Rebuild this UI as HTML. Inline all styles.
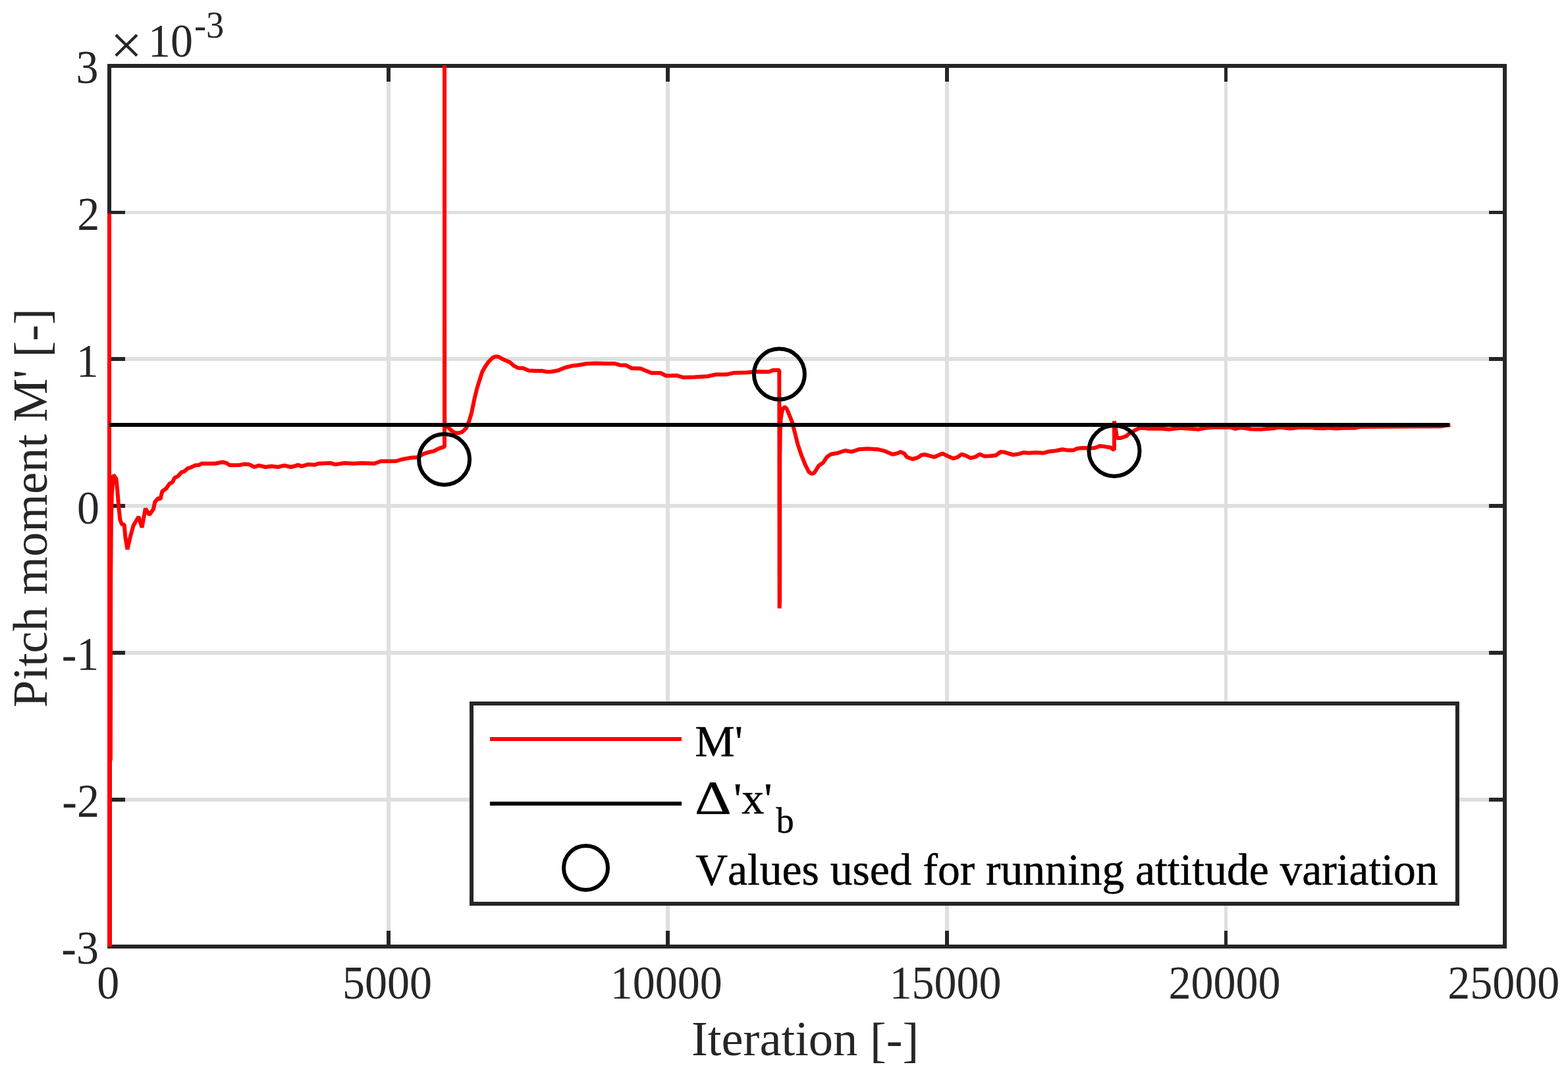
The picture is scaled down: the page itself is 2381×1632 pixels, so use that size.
<!DOCTYPE html>
<html lang="en">
<head>
<meta charset="utf-8">
<title>Pitch moment convergence</title>
<style>
html,body{margin:0;padding:0;background:#fff;}
body{width:2381px;height:1632px;overflow:hidden;}
svg{display:block;}
text{font-family:"Liberation Serif", "DejaVu Serif", serif;font-kerning:none;font-variant-ligatures:none;}
.tick{font-size:68px;fill:#262626;}
.sup{font-size:54.4px;fill:#262626;}
.lab{font-size:74.5px;fill:#262626;}
.lab2{font-size:74.3px;fill:#262626;}
.leg{font-size:68px;fill:#000;stroke:#000;stroke-width:0.5px;}
.legsub{font-size:54.4px;fill:#000;stroke:#000;stroke-width:0.4px;}
</style>
</head>
<body>
<svg width="2381" height="1632" viewBox="0 0 2381 1632">
<defs><clipPath id="clip"><rect x="150" y="99" width="2150" height="1338"/></clipPath></defs>
<rect x="0" y="0" width="2381" height="1632" fill="#ffffff"/>

<g fill="#dfdfdf">
<rect x="587" y="103" width="6" height="1331"/>
<rect x="1011" y="103" width="6" height="1331"/>
<rect x="1435" y="103" width="6" height="1331"/>
<rect x="1859" y="103" width="5" height="1331"/>
<rect x="169" y="320" width="2113" height="5"/>
<rect x="169" y="542" width="2113" height="6"/>
<rect x="169" y="765" width="2113" height="6"/>
<rect x="169" y="988" width="2113" height="6"/>
<rect x="169" y="1211" width="2113" height="6"/>
</g>
<g fill="#262626">
<rect x="587" y="1413" width="6" height="24"/>
<rect x="587" y="100" width="6" height="24"/>
<rect x="1011" y="1413" width="6" height="24"/>
<rect x="1011" y="100" width="6" height="24"/>
<rect x="1435" y="1413" width="6" height="24"/>
<rect x="1435" y="100" width="6" height="24"/>
<rect x="1859" y="1413" width="5" height="24"/>
<rect x="1859" y="100" width="5" height="24"/>
<rect x="166" y="320" width="24" height="5"/>
<rect x="2261" y="320" width="24" height="5"/>
<rect x="166" y="542" width="24" height="6"/>
<rect x="2261" y="542" width="24" height="6"/>
<rect x="166" y="765" width="24" height="6"/>
<rect x="2261" y="765" width="24" height="6"/>
<rect x="166" y="988" width="24" height="6"/>
<rect x="2261" y="988" width="24" height="6"/>
<rect x="166" y="1211" width="24" height="6"/>
<rect x="2261" y="1211" width="24" height="6"/>
</g>
<rect x="166" y="100" width="2119" height="1337" fill="none" stroke="#262626" stroke-width="6"/>
<g clip-path="url(#clip)" fill="none">
<path d="M166.0,324.0 L166.0,1445.0 L167.0,1445.0 L167.0,1156.0 L167.9,1153.0 L168.2,880.0 L168.8,795.0 L169.8,750.0 L172.3,721.0 L176.5,727.0 L178.3,745.0 L180.3,770.0 L182.3,789.0 L185.0,796.0 L188.7,796.5 L190.3,815.0 L193.4,834.0 L198.2,813.5 L202.6,797.7 L210.5,784.5 L215.6,800.8 L220.8,772.0 L226.8,781.6 L232.9,773.0 L235.3,762.0 L240.0,756.5 L243.6,757.5 L246.3,746.0 L252.2,741.8 L257.7,734.0 L261.9,732.2 L265.0,725.5 L270.2,723.0 L275.7,716.8 L279.8,715.6 L285.4,710.8 L289.5,709.8 L296.4,706.5 L301.9,706.0 L306.1,703.8 L326.8,703.8 L337.8,701.5 L343.4,702.8 L348.9,706.3 L364.1,706.0 L371.0,704.6 L377.9,704.9 L386.2,709.0 L393.1,706.6 L402.8,709.0 L412.4,707.7 L422.1,709.0 L431.8,706.7 L441.4,709.0 L449.7,707.0 L452.4,705.8 L458.0,707.8 L467.6,705.1 L477.3,705.8 L484.2,703.7 L502.2,703.0 L509.1,705.1 L522.9,703.0 L536.7,703.7 L550.5,703.0 L568.5,703.7 L578.1,700.2 L601.6,700.0 L609.9,697.5 L622.3,695.1 L633.4,694.3 L643.0,689.2 L651.3,686.4 L658.2,685.1 L666.5,680.9 L675.0,678.1 L675.0,90.0 L675.2,645.0 L680.3,648.5 L685.9,654.0 L690.0,656.6 L694.1,657.4 L698.5,657.0 L702.4,655.4 L708.0,649.8 L712.1,640.2 L716.2,626.4 L720.4,605.6 L724.5,589.1 L728.3,576.7 L732.4,564.3 L736.6,556.7 L742.1,549.1 L747.6,543.5 L751.0,541.7 L754.5,541.2 L757.5,541.9 L760.1,543.3 L765.6,546.3 L773.9,549.8 L779.4,554.6 L786.3,558.5 L794.6,559.1 L802.9,562.6 L813.9,563.1 L823.6,563.1 L830.5,564.5 L837.4,564.3 L847.1,562.5 L858.1,558.0 L867.8,555.6 L878.8,554.2 L889.9,552.2 L903.7,551.5 L920.3,552.1 L934.1,552.1 L941.0,554.2 L950.7,554.6 L959.0,559.0 L972.8,559.4 L981.0,562.9 L989.3,566.3 L1003.1,566.3 L1011.4,570.5 L1028.0,570.1 L1037.6,573.0 L1054.2,572.5 L1074.9,571.2 L1087.3,568.4 L1103.9,568.4 L1115.0,565.9 L1134.3,565.4 L1148.1,564.3 L1167.5,564.5 L1174.4,561.9 L1183.3,561.9 L1183.6,923.6 L1184.1,910.0 L1184.2,697.0 L1184.7,655.0 L1185.7,634.5 L1188.2,621.5 L1190.0,618.9 L1192.1,618.0 L1194.6,620.6 L1197.6,627.6 L1203.1,641.4 L1207.3,658.0 L1211.4,674.6 L1217.0,691.2 L1222.5,705.0 L1228.0,716.0 L1231.0,718.6 L1233.5,719.1 L1235.8,718.2 L1237.7,716.0 L1243.2,707.0 L1250.1,702.2 L1255.6,693.9 L1261.2,689.8 L1272.2,687.7 L1283.3,684.0 L1292.9,685.9 L1305.4,681.9 L1317.8,681.2 L1333.0,682.2 L1344.0,684.9 L1355.1,689.8 L1362.0,688.4 L1367.5,685.9 L1373.0,688.4 L1377.2,693.9 L1385.5,697.0 L1393.8,694.6 L1399.3,690.7 L1404.8,690.1 L1418.6,693.9 L1431.0,688.4 L1439.3,692.5 L1447.6,696.0 L1454.5,693.9 L1460.0,689.5 L1466.9,691.9 L1473.8,695.4 L1482.1,693.3 L1487.6,689.4 L1494.5,692.6 L1502.8,692.2 L1512.5,691.2 L1519.4,686.0 L1524.9,686.4 L1531.8,688.5 L1538.7,690.5 L1547.0,689.1 L1553.9,687.1 L1562.2,687.8 L1573.3,687.1 L1584.3,687.8 L1592.6,685.4 L1603.6,684.3 L1613.3,682.2 L1621.6,683.6 L1629.9,683.6 L1635.4,680.9 L1643.7,679.9 L1653.4,680.2 L1661.7,680.2 L1670.0,677.1 L1678.2,678.1 L1686.5,679.5 L1690.0,682.2 L1692.0,682.5 L1692.0,639.3 L1694.6,655.0 L1696.2,665.0 L1701.7,665.0 L1710.0,662.2 L1715.5,657.4 L1722.4,653.9 L1728.0,650.8 L1732.0,649.5 L1744.5,650.8 L1760.0,650.5 L1775.0,651.8 L1791.6,649.8 L1820.0,651.8 L1830.0,649.8 L1843.0,648.8 L1869.0,648.8 L1875.5,651.0 L1882.0,649.5 L1887.0,649.5 L1900.0,651.5 L1914.0,651.8 L1933.6,650.3 L1940.0,649.0 L1946.5,649.0 L1959.4,650.5 L1972.0,649.0 L1992.0,649.0 L1998.0,650.0 L2011.0,650.3 L2017.5,649.5 L2029.0,650.5 L2040.0,649.8 L2057.0,649.7 L2065.0,648.0 L2100.0,647.7 L2140.0,647.6 L2188.0,647.3 L2195.0,646.0 L2202.3,645.3" stroke="#ff0000" stroke-width="6" stroke-linejoin="bevel" stroke-linecap="butt"/>
<line x1="166" y1="645" x2="2201" y2="645" stroke="#000" stroke-width="6"/>
<circle cx="674.6" cy="697.5" r="38.5" stroke="#000" stroke-width="6"/>
<circle cx="1183.4" cy="568.0" r="38.5" stroke="#000" stroke-width="6"/>
<circle cx="1692.0" cy="684.5" r="38.5" stroke="#000" stroke-width="6"/>
</g>
<text class="tick" text-anchor="middle" transform="translate(164.20,1516.00) scale(1.0,1.045)">0</text>
<text class="tick" text-anchor="middle" transform="translate(588.00,1516.00) scale(1.0,1.045)">5000</text>
<text class="tick" text-anchor="middle" transform="translate(1011.80,1516.00) scale(1.0,1.045)">10000</text>
<text class="tick" text-anchor="middle" transform="translate(1435.60,1516.00) scale(1.0,1.045)">15000</text>
<text class="tick" text-anchor="middle" transform="translate(1859.40,1516.00) scale(1.0,1.045)">20000</text>
<text class="tick" text-anchor="middle" transform="translate(2283.20,1516.00) scale(1.0,1.045)">25000</text>
<text class="tick" text-anchor="end" transform="translate(149.60,126.00) scale(1.0,1.045)">3</text>
<text class="tick" text-anchor="end" transform="translate(151.20,348.83) scale(1.0,1.045)">2</text>
<text class="tick" text-anchor="end" transform="translate(149.80,571.67) scale(1.0,1.045)">1</text>
<text class="tick" text-anchor="end" transform="translate(151.00,794.50) scale(1.0,1.045)">0</text>
<text class="tick" text-anchor="end" transform="translate(150.30,1017.33) scale(1.0,1.045)">-1</text>
<text class="tick" text-anchor="end" transform="translate(151.00,1240.17) scale(1.0,1.045)">-2</text>
<text class="tick" text-anchor="end" transform="translate(150.00,1463.00) scale(1.0,1.045)">-3</text>
<text class="tick" text-anchor="start" transform="translate(167.50,97.00) scale(1.27,1.24)">×</text>
<text class="tick" text-anchor="start" transform="translate(225.00,85.50) scale(1.0,1.045)">10</text>
<text class="sup" text-anchor="start" transform="translate(295.00,56.60) scale(1.0,1.045)">-3</text>
<text class="lab" text-anchor="middle" transform="translate(1222.70,1601.70)">Iteration <tspan dy="2.3">[</tspan><tspan dy="-1.1">-</tspan><tspan dy="1.1">]</tspan></text>
<text class="lab2" text-anchor="middle" transform="translate(71.00,771.20) rotate(-90)">Pitch moment M' <tspan dy="2.3">[</tspan><tspan dy="-1.1">-</tspan><tspan dy="1.1">]</tspan></text>
<rect x="716" y="1068" width="1497" height="304" fill="#fff" stroke="#262626" stroke-width="6"/>
<line x1="744" y1="1122" x2="1035" y2="1122" stroke="#ff0000" stroke-width="6"/>
<line x1="744" y1="1220" x2="1035" y2="1220" stroke="#000" stroke-width="6"/>
<circle cx="889.5" cy="1317.5" r="33.5" fill="none" stroke="#000" stroke-width="6"/>
<text class="leg" text-anchor="start" transform="translate(1055.20,1148.00)">M'</text>
<text class="leg" text-anchor="start" transform="translate(1055.00,1235.00) scale(1.27,1.05)">Δ</text>
<text class="leg" text-anchor="start" transform="translate(1114.00,1235.00)">'x'</text>
<text class="legsub" text-anchor="start" transform="translate(1178.50,1263.60)">b</text>
<text class="leg" text-anchor="start" transform="translate(1056.30,1343.10) scale(0.9935,1.0)">Values used for running attitude variation</text>
</svg>
</body>
</html>
